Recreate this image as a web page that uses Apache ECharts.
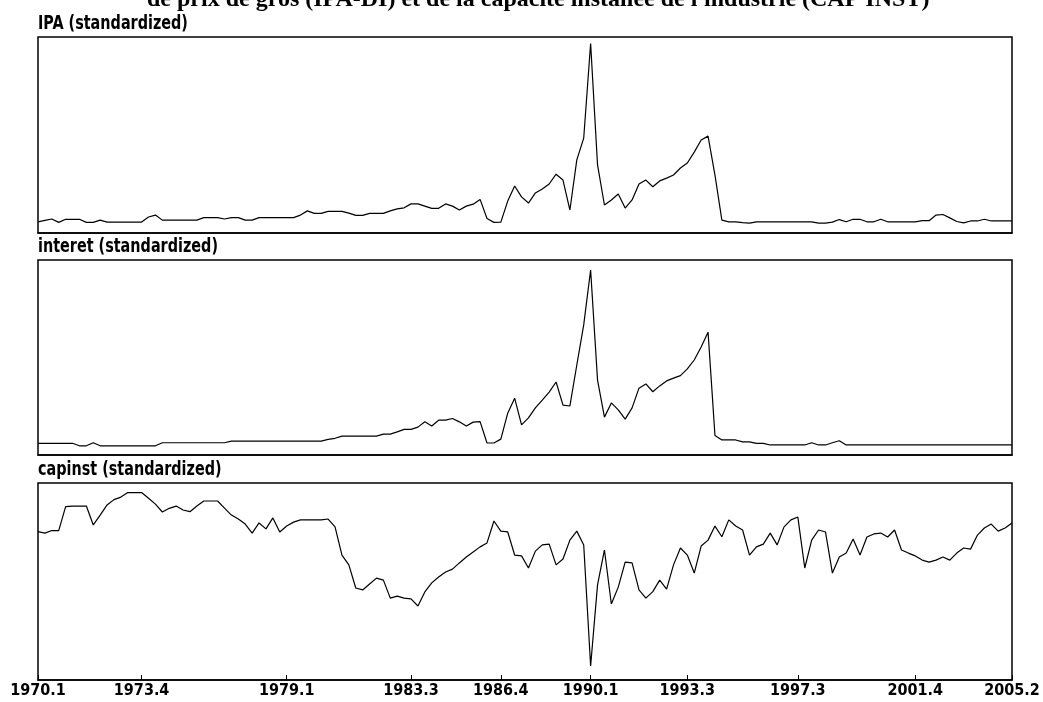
<!DOCTYPE html>
<html>
<head>
<meta charset="utf-8">
<script src="https://cdn.jsdelivr.net/npm/echarts@6/dist/echarts.min.js"></script>
<style>
html,body{margin:0;padding:0;background:#fff;}
#chart{width:1043px;height:702px;}
</style>
</head>
<body>
<div id="chart"></div>
<script>
// Quarterly periods 1970.1 .. 2005.2
const startYear = 1970, endYear = 2005, endQuarter = 2;
const categories = [];
for (let y = startYear; y <= endYear; y++) {
  for (let q = 1; q <= 4; q++) {
    if (y === endYear && q > endQuarter) break;
    categories.push(y + '.' + q);
  }
}
const tickLabels = ['1970.1','1973.4','1979.1','1983.3','1986.4','1990.1','1993.3','1997.3','2001.4','2005.2'];

const titleText = "de prix de gros (IPA-DI) et de la capacité installée de l'industrie (CAP INST)";
const panelTitles = ['IPA (standardized)', 'interet (standardized)', 'capinst (standardized)'];

const ipa = [
 -0.60,-0.55,-0.50,-0.62,-0.51,-0.51,-0.51,-0.62,-0.62,-0.54,
 -0.61,-0.61,-0.61,-0.61,-0.61,-0.61,-0.43,-0.36,-0.54,-0.54,
 -0.54,-0.54,-0.54,-0.54,-0.45,-0.45,-0.45,-0.50,-0.45,-0.45,
 -0.54,-0.54,-0.45,-0.45,-0.45,-0.45,-0.45,-0.45,-0.36,-0.21,
 -0.30,-0.30,-0.23,-0.23,-0.23,-0.29,-0.37,-0.37,-0.30,-0.30,
 -0.30,-0.21,-0.14,-0.10,0.04,0.04,-0.04,-0.12,-0.12,0.04,
 -0.04,-0.18,-0.04,0.03,0.20,-0.48,-0.62,-0.61,0.14,0.68,
 0.29,0.07,0.43,0.57,0.75,1.10,0.89,-0.18,1.61,2.39,
 5.77,1.43,0.00,0.18,0.39,-0.11,0.18,0.75,0.89,0.65,
 0.86,0.96,1.07,1.32,1.50,1.89,2.32,2.46,1.07,-0.54,
 -0.60,-0.60,-0.63,-0.65,-0.60,-0.60,-0.60,-0.60,-0.60,-0.60,
 -0.60,-0.60,-0.60,-0.65,-0.65,-0.61,-0.52,-0.60,-0.51,-0.51,
 -0.60,-0.60,-0.51,-0.60,-0.60,-0.60,-0.60,-0.60,-0.56,-0.56,
 -0.36,-0.34,-0.46,-0.59,-0.64,-0.57,-0.57,-0.51,-0.57,-0.57,
 -0.57,-0.57
];

const interet = [
 -0.58,-0.58,-0.58,-0.58,-0.58,-0.58,-0.67,-0.67,-0.56,-0.67,
 -0.67,-0.67,-0.67,-0.67,-0.67,-0.67,-0.67,-0.67,-0.56,-0.56,
 -0.56,-0.56,-0.56,-0.56,-0.56,-0.56,-0.56,-0.56,-0.50,-0.50,
 -0.50,-0.50,-0.50,-0.50,-0.50,-0.50,-0.50,-0.50,-0.50,-0.50,
 -0.50,-0.50,-0.44,-0.40,-0.32,-0.32,-0.32,-0.32,-0.32,-0.32,
 -0.25,-0.25,-0.17,-0.08,-0.08,0.00,0.19,0.04,0.25,0.25,
 0.31,0.19,0.04,0.18,0.20,-0.57,-0.57,-0.43,0.50,1.04,
 0.08,0.33,0.69,0.97,1.26,1.62,0.79,0.76,2.23,3.67,
 5.64,1.69,0.36,0.87,0.62,0.29,0.69,1.40,1.55,1.27,
 1.48,1.66,1.76,1.85,2.09,2.41,2.88,3.41,-0.30,-0.46,
 -0.46,-0.46,-0.53,-0.53,-0.58,-0.58,-0.64,-0.64,-0.64,-0.64,
 -0.64,-0.64,-0.56,-0.64,-0.64,-0.56,-0.49,-0.64,-0.64,-0.64,
 -0.64,-0.64,-0.64,-0.64,-0.64,-0.64,-0.64,-0.64,-0.64,-0.64,
 -0.64,-0.64,-0.64,-0.64,-0.64,-0.64,-0.64,-0.64,-0.64,-0.64,
 -0.64,-0.64
];

const capinst = [
 1.77,1.72,1.81,1.81,2.66,2.68,2.68,2.68,2.01,2.36,
 2.72,2.91,3.00,3.16,3.16,3.16,2.96,2.75,2.47,2.60,
 2.68,2.54,2.48,2.68,2.86,2.86,2.86,2.61,2.36,2.22,
 2.04,1.72,2.08,1.87,2.26,1.76,1.97,2.11,2.19,2.19,
 2.19,2.19,2.22,1.94,0.94,0.59,-0.23,-0.30,-0.09,0.12,
 0.05,-0.59,-0.52,-0.59,-0.62,-0.87,-0.37,-0.05,0.16,0.34,
 0.44,0.66,0.87,1.05,1.23,1.37,2.15,1.79,1.76,0.94,
 0.91,0.48,1.08,1.30,1.33,0.59,0.80,1.47,1.79,1.30,
 -3.00,-0.12,1.12,-0.80,-0.20,0.69,0.66,-0.30,-0.59,-0.36,
 0.05,-0.27,0.59,1.19,0.94,0.30,1.26,1.47,1.97,1.59,
 2.19,1.97,1.83,0.94,1.23,1.33,1.72,1.30,1.94,2.19,
 2.29,0.48,1.47,1.83,1.76,0.30,0.87,1.01,1.51,0.94,
 1.58,1.69,1.72,1.58,1.83,1.12,1.01,0.91,0.76,0.69,
 0.76,0.87,0.76,1.01,1.19,1.15,1.65,1.90,2.04,1.79,
 1.90,2.08
];

const seriesData = [ipa, interet, capinst];
const yRanges = [[-1, 6], [-1, 6], [-3.5, 3.5]];
const grids = [
  {left: 38, right: 31, top: 37, height: 196},
  {left: 38, right: 31, top: 260, height: 195},
  {left: 38, right: 31, top: 483, height: 197}
];
const titleTops = [14, 237, 460];

const labelFont = "'DejaVu Sans Condensed', 'Liberation Sans Narrow', sans-serif";
const showTick = (idx, val) => tickLabels.indexOf(val) >= 0;

const chart = echarts.init(document.getElementById('chart'), null, {renderer: 'canvas'});
const option = {
  backgroundColor: '#ffffff',
  animation: false,
  grid: grids.map(g => Object.assign({show: true, borderColor: '#000', borderWidth: 1.5,
    backgroundColor: 'transparent', containLabel: false, outerBoundsMode: 'none'}, g)),
  xAxis: grids.map((g, k) => ({
    type: 'category',
    gridIndex: k,
    data: categories,
    boundaryGap: false,
    axisLine: {show: true, onZero: false, lineStyle: {color: '#000', width: 1.5}},
    axisTick: {show: k === 2, inside: true, length: 5, interval: showTick, lineStyle: {color: '#000'}},
    axisLabel: {
      show: k === 2, interval: showTick, color: '#000',
      fontFamily: labelFont, fontWeight: 'bold', fontSize: 16, margin: 3
    },
    splitLine: {show: false}
  })),
  yAxis: yRanges.map((r, k) => ({
    type: 'value', gridIndex: k, min: r[0], max: r[1],
    axisLine: {show: false}, axisTick: {show: false}, axisLabel: {show: false}, splitLine: {show: false}
  })),
  series: seriesData.map((d, k) => ({
    type: 'line', xAxisIndex: k, yAxisIndex: k, data: d,
    showSymbol: false, symbol: 'none',
    lineStyle: {color: '#000', width: 1.2}
  })),
  graphic: [
    {type: 'text', left: 147, top: -12, style: {text: titleText, fill: '#000',
      font: "bold 24px 'Liberation Serif', serif"}}
  ].concat(panelTitles.map((t, k) => ({
    type: 'text', left: 38, top: titleTops[k], scaleY: 1.2,
    style: {text: t, fill: '#000', font: "bold 16px " + labelFont}
  })))
};
chart.setOption(option);
</script>
</body>
</html>
